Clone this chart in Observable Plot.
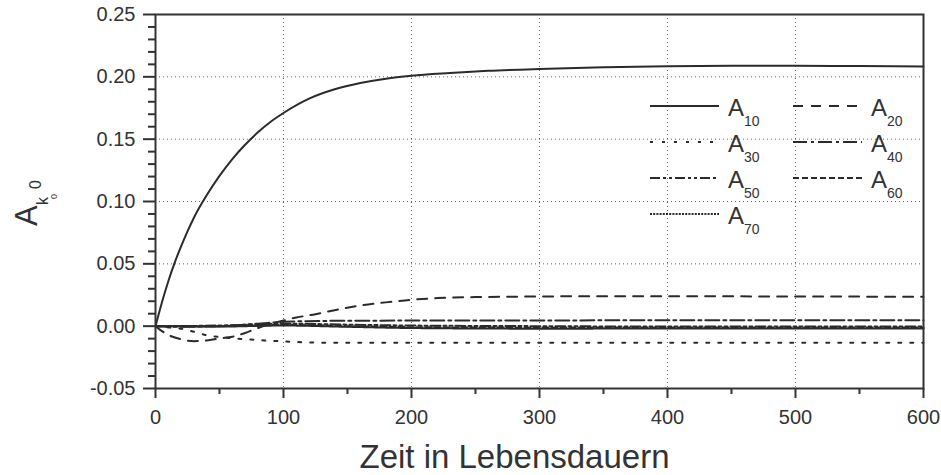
<!DOCTYPE html>
<html><head><meta charset="utf-8">
<script src="https://cdn.jsdelivr.net/npm/d3@7"></script>
<script src="https://cdn.jsdelivr.net/npm/@observablehq/plot@0.6"></script>
<style>body{margin:0;background:#fff;} #chart{width:941px;height:475px;}</style>
</head><body><div id="chart"></div>
<script>
// ---- data ----
const seriesNames = ["A10","A20","A30","A40","A50","A60","A70"];
const subLabels = ["10","20","30","40","50","60","70"];

const x10 = [0,5,10,15,20,25,30,40,50,60,70,80,90,100,120,140,160,180,200,230,260,300,350,400,450,500,550,600];
const a10 = [0,0.019,0.036,0.051,0.064,0.076,0.087,0.105,0.1205,0.134,0.1455,0.1555,0.164,0.171,0.1825,0.190,0.195,0.1985,0.2008,0.203,0.2048,0.2063,0.2076,0.2085,0.2088,0.2088,0.2086,0.2083];

const x20 = [0,5,10,20,30,40,50,60,70,80,90,100,110,125,140,155,170,185,200,220,250,300,350,400,500,600];
const a20 = [0,-0.004,-0.007,-0.0105,-0.012,-0.0115,-0.0098,-0.0085,-0.0055,-0.0015,0.0018,0.0045,0.0069,0.0096,0.0128,0.0158,0.018,0.0196,0.0212,0.0225,0.0233,0.0238,0.024,0.024,0.0238,0.0236];

const x30 = [0,10,20,30,40,55,75,85,100,120,150,200,300,400,500,600];
const a30 = [0,-0.001,-0.002,-0.0045,-0.0072,-0.0093,-0.0107,-0.0115,-0.0122,-0.0131,-0.0134,-0.0134,-0.0134,-0.0134,-0.0134,-0.0134];

const x40 = [0,20,50,80,100,130,200,300,400,500,600];
const a40 = [0,-0.0005,0,0.002,0.0035,0.0042,0.0045,0.0046,0.0047,0.0047,0.0047];

const x50 = [0,50,100,150,200,300,400,500,600];
const a50 = [0,0.0005,0.002,0.0012,0.0005,0,-0.0003,-0.0003,-0.0003];

const x60 = [0,50,100,150,200,300,400,500,600];
const a60 = [0,0,0.001,0,-0.0008,-0.0012,-0.0012,-0.0012,-0.0012];

const x70 = [0,50,100,150,200,300,400,500,600];
const a70 = [0,-0.0003,0.0005,-0.0005,-0.0015,-0.002,-0.0019,-0.0018,-0.0018];

const xTicks = [0,100,200,300,400,500,600];
const xMinor = [50,150,250,350,450,550];
const yTicks = [-0.05,0,0.05,0.10,0.15,0.20,0.25];
const yMinor = [-0.04,-0.03,-0.02,-0.01,0.01,0.02,0.03,0.04,0.06,0.07,0.08,0.09,0.11,0.12,0.13,0.14,0.16,0.17,0.18,0.19,0.21,0.22,0.23,0.24];
const xGrid = [100,200,300,400,500];
const yGrid = [0.05,0.10,0.15,0.20];
const xLabel = "Zeit in Lebensdauern";

// ---- styles ----
const dashes = ["none","10,8","3,9","14,4,3,4","10,3,3,3,3,3","6,3","2,1.2"];
const ink = "#2b2b2b";
const font = "'Liberation Sans', Arial, sans-serif";

const xs = [x10,x20,x30,x40,x50,x60,x70];
const ys = [a10,a20,a30,a40,a50,a60,a70];
const series = seriesNames.map((name,i) => ({
  name, sub: subLabels[i], dash: dashes[i],
  rows: xs[i].map((x,j) => ({x, y: ys[i][j]}))
}));

const W = 941, H = 475;
const mL = 155, mR = 18, mT = 14, mB = 87;

const plot = Plot.plot({
  width: W, height: H,
  marginLeft: mL, marginRight: mR, marginTop: mT, marginBottom: mB,
  style: {fontFamily: font, fontSize: "20px", color: "#333", background: "#fff"},
  x: {domain: [0,600], label: null},
  y: {domain: [-0.05,0.25], label: null},
  marks: [
    Plot.gridX(xGrid, {stroke: "#666", strokeOpacity: 1, strokeWidth: 1, strokeDasharray: "1,3"}),
    Plot.gridY(yGrid, {stroke: "#666", strokeOpacity: 1, strokeWidth: 1, strokeDasharray: "1,3"}),
    ...series.map(s => Plot.line(s.rows, {x: "x", y: "y", stroke: ink, strokeWidth: 2, strokeDasharray: s.dash, curve: "monotone-x"})),
    Plot.axisX(xTicks, {tickSize: 10, tickPadding: 11, strokeWidth: 2, stroke: "#333", tickFormat: d => String(d), label: null}),
    Plot.axisX(xMinor, {tickSize: 6, strokeWidth: 2, stroke: "#333", tickFormat: () => "", label: null}),
    Plot.axisY(yTicks, {tickSize: 12, tickPadding: 8, strokeWidth: 2, stroke: "#333", tickFormat: d => d.toFixed(2), label: null}),
    Plot.axisY(yMinor, {tickSize: 7, strokeWidth: 2, stroke: "#333", tickFormat: () => "", label: null}),
    Plot.frame({stroke: "#333", strokeWidth: 2}),
    Plot.text([xLabel], {frameAnchor: "bottom", lineAnchor: "middle", dy: 69, dx: -25, text: d => d, fontSize: 33, fill: "#333"})
  ]
});
document.getElementById("chart").appendChild(plot);

const svg = d3.select(plot);

// ---- y axis label A_{k0}0 ----
const yl = svg.append("g").attr("transform", "translate(37,226) rotate(-90)")
  .attr("fill", "#333").attr("font-family", font).attr("text-anchor", "start");
yl.append("text").attr("x", 0).attr("y", 0).attr("font-size", 31).text("A");
yl.append("text").attr("x", 21).attr("y", 11).attr("font-size", 16).text("k");
yl.append("text").attr("x", 27).attr("y", 20).attr("font-size", 9).text("0");
yl.append("text").attr("x", 37).attr("y", 4).attr("font-size", 16).text("0");

// ---- legend ----
const leg = svg.append("g").attr("font-family", font).attr("fill", "#333").attr("text-anchor", "start");
series.forEach((s,i) => {
  const col = i % 2, row = Math.floor(i / 2);
  const x0 = col === 0 ? 650 : 793;
  const ly = 106 + row * 36;
  leg.append("line").attr("x1", x0).attr("x2", x0 + 69).attr("y1", ly).attr("y2", ly)
    .attr("stroke", ink).attr("stroke-width", 2).attr("stroke-dasharray", s.dash);
  const t = leg.append("text").attr("x", x0 + 78).attr("y", ly + 10).attr("font-size", 24);
  t.append("tspan").text("A");
  t.append("tspan").attr("font-size", 14).attr("dy", 10).text(s.sub);
});
</script>
</body></html>
